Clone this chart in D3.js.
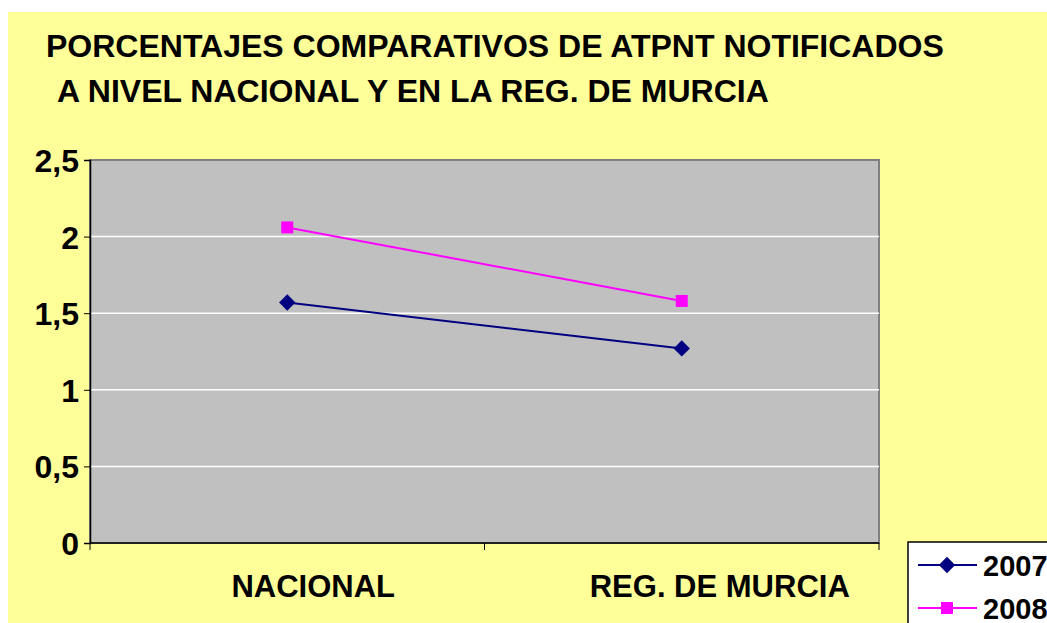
<!doctype html>
<html lang="en">
<head>
<meta charset="utf-8">
<title>Porcentajes comparativos de ATPNT</title>
<script src="https://d3js.org/d3.v7.min.js"></script>
<style>
  body { margin: 0; background: #ffffff; }
  text { font-family: "Liberation Sans", Arial, sans-serif; font-weight: bold; }
</style>
</head>
<body>
<svg id="chart" width="1047" height="623"></svg>
<script>
// data
var categories = ["NACIONAL", "REG. DE MURCIA"];
var years = ["2007", "2008"];
var values2007 = [1.57, 1.27];
var values2008 = [2.06, 1.58];
var yTicks = [0, 0.5, 1, 1.5, 2, 2.5];
var titleLines = ["PORCENTAJES COMPARATIVOS DE ATPNT NOTIFICADOS", "A NIVEL NACIONAL Y EN LA REG. DE MURCIA"];

var series = [
  { name: years[0], values: values2007, color: "#000080", symbol: "diamond" },
  { name: years[1], values: values2008, color: "#ff00ff", symbol: "square" }
];

var svg = d3.select("#chart");
var plotLeft = 90, plotRight = 879, plotTop = 160, plotBottom = 543;

// yellow chart area
svg.append("rect")
  .attr("x", 8).attr("y", 12)
  .attr("width", 1047 - 8).attr("height", 623 - 12)
  .attr("fill", "#ffff99");

// title
svg.append("g").selectAll("text")
  .data(titleLines)
  .enter().append("text")
  .attr("x", function(d, i) { return i == 0 ? 46 : 57; })
  .attr("y", function(d, i) { return 57 + i * 45; })
  .attr("font-size", 32)
  .text(function(d) { return d; });

var x = d3.scaleBand().domain(categories).range([plotLeft, plotRight]);
var y = d3.scaleLinear().domain([0, 2.5]).range([plotBottom, plotTop]);

// plot area
svg.append("rect")
  .attr("x", plotLeft).attr("y", plotTop)
  .attr("width", plotRight - plotLeft).attr("height", plotBottom - plotTop)
  .attr("fill", "#c0c0c0")
  .attr("stroke", "#808080")
  .attr("stroke-width", 2);

// gridlines
svg.append("g").selectAll("line")
  .data(yTicks.filter(function(d) { return d > 0 && d < 2.5; }))
  .enter().append("line")
  .attr("x1", plotLeft).attr("x2", plotRight)
  .attr("y1", function(d) { return y(d); })
  .attr("y2", function(d) { return y(d); })
  .attr("stroke", "#ffffff")
  .attr("stroke-width", 1.5);

// y axis
var yAxis = svg.append("g")
  .attr("transform", "translate(" + plotLeft + ",0)")
  .call(d3.axisLeft(y).tickValues(yTicks).tickSize(6).tickPadding(5)
    .tickFormat(function(d) { return String(d).replace(".", ","); }));
yAxis.select(".domain").attr("stroke", "#000").attr("stroke-width", 1.5);
yAxis.selectAll(".tick line").attr("stroke", "#000");
yAxis.selectAll(".tick text")
  .attr("font-size", 32)
  .attr("dy", "0.36em")
  .attr("fill", "#000")
  .attr("font-family", "Liberation Sans, Arial, sans-serif")
  .attr("font-weight", "bold");

// x axis: ticks between categories
svg.append("line")
  .attr("x1", plotLeft).attr("x2", plotRight)
  .attr("y1", plotBottom).attr("y2", plotBottom)
  .attr("stroke", "#000").attr("stroke-width", 1.5);
var bounds = [plotLeft].concat(categories.map(function(c) { return x(c) + x.bandwidth(); }));
svg.append("g").selectAll("line")
  .data(bounds)
  .enter().append("line")
  .attr("x1", function(d) { return d; }).attr("x2", function(d) { return d; })
  .attr("y1", plotBottom).attr("y2", plotBottom + 7)
  .attr("stroke", "#000");

svg.append("g").selectAll("text")
  .data(categories)
  .enter().append("text")
  .attr("x", function(d, i) { return x(d) + x.bandwidth() / 2 + (i == 0 ? 26 : 38); })
  .attr("y", 597)
  .attr("text-anchor", "middle")
  .attr("font-size", 31)
  .text(function(d) { return d; });

// lines and markers
var line = d3.line()
  .x(function(d, i) { return x(categories[i]) + x.bandwidth() / 2; })
  .y(function(d) { return y(d); });

function marker(g, s) {
  if (s.symbol == "diamond") {
    return g.append("path")
      .attr("d", d3.symbol().type(d3.symbolDiamond2).size(170)())
      .attr("fill", s.color);
  }
  return g.append("rect")
    .attr("x", -6).attr("y", -6).attr("width", 12).attr("height", 12)
    .attr("fill", s.color);
}

series.forEach(function(s) {
  svg.append("path")
    .datum(s.values)
    .attr("d", line)
    .attr("fill", "none")
    .attr("stroke", s.color)
    .attr("stroke-width", 2);
  s.values.forEach(function(v, i) {
    var g = svg.append("g")
      .attr("transform", "translate(" + (x(categories[i]) + x.bandwidth() / 2) + "," + y(v) + ")");
    marker(g, s);
  });
});

// legend
var legend = svg.append("g").attr("transform", "translate(908,542)");
legend.append("rect")
  .attr("x", 0).attr("y", 0)
  .attr("width", 200).attr("height", 120)
  .attr("fill", "#ffffff")
  .attr("stroke", "#000")
  .attr("stroke-width", 1.5);
series.forEach(function(s, i) {
  var row = legend.append("g").attr("transform", "translate(0," + (23 + i * 43) + ")");
  row.append("line")
    .attr("x1", 10).attr("x2", 69)
    .attr("y1", 0).attr("y2", 0)
    .attr("stroke", s.color).attr("stroke-width", 2);
  var m = row.append("g").attr("transform", "translate(39,0)");
  marker(m, s);
  row.append("text")
    .attr("x", 75).attr("y", 11)
    .attr("font-size", 29)
    .text(s.name);
});
</script>
</body>
</html>
